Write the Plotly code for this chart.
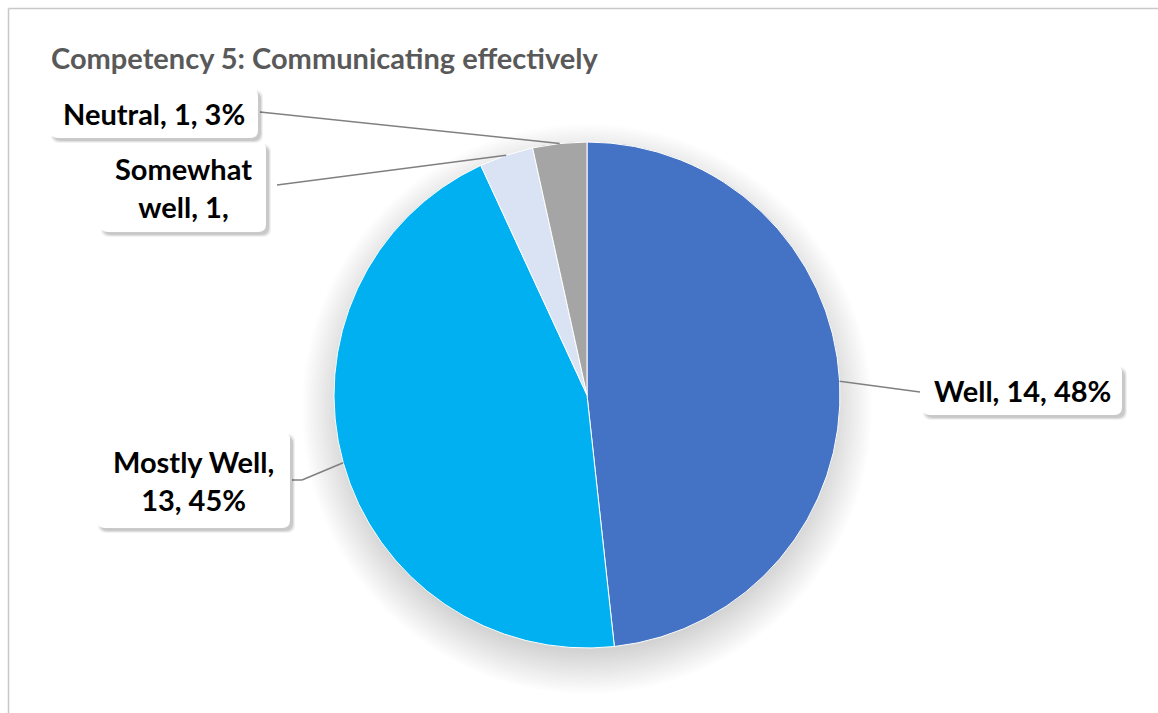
import math
import plotly.graph_objects as go

# Survey responses for competency 5
categories = ["Well", "Mostly Well", "Somewhat well", "Neutral"]
counts = [14, 13, 1, 1]
colors = ["#4472C4", "#00B0F0", "#DAE3F3", "#A5A5A5"]
title_text = "Competency 5: Communicating effectively"

W, H = 1158, 713
CX, CY, R = 587, 395, 253  # pie centre and radius in pixels
FONT = "Lato"


def px(x):
    return x / W


def py(y):
    return 1 - y / H


def rounded_rect(x0, y0, x1, y1, r):
    rx, ry = r / W, r / H
    a, b, c, d = px(x0), py(y0), px(x1), py(y1)  # b is top (higher), d is bottom
    return (f"M {a+rx},{b} L {c-rx},{b} Q {c},{b} {c},{b-ry} "
            f"L {c},{d+ry} Q {c},{d} {c-rx},{d} L {a+rx},{d} "
            f"Q {a},{d} {a},{d+ry} L {a},{b-ry} Q {a},{b} {a+rx},{b} Z")


total = sum(counts)
pcts = [round(100 * v / total) for v in counts]
labels = [f"{c}, {v}, {p}%" for c, v, p in zip(categories, counts, pcts)]

fig = go.Figure()
fig.add_trace(go.Pie(
    labels=categories, values=counts, sort=False, direction="clockwise",
    rotation=0, textinfo="none", hoverinfo="label+value+percent",
    marker=dict(colors=colors, line=dict(color="white", width=1)),
    showlegend=False,
    domain=dict(x=[px(CX - R), px(CX + R)], y=[py(CY + R), py(CY - R)]),
))

shapes = []
annotations = []

# chart area border (top and left edges visible)
shapes.append(dict(type="line", xref="paper", yref="paper", x0=px(8.5), y0=py(8.5),
                   x1=1.02, y1=py(8.5), line=dict(color="#C8C8C8", width=1.5)))
shapes.append(dict(type="line", xref="paper", yref="paper", x0=px(8.5), y0=py(8.5),
                   x1=px(8.5), y1=-0.02, line=dict(color="#C8C8C8", width=1.5)))

# soft shadow around the pie
for k in range(22):
    rr = R - 10 + k * 2
    oy = 14
    shapes.append(dict(type="circle", xref="paper", yref="paper", layer="below",
                       x0=px(CX - rr), x1=px(CX + rr), y0=py(CY + oy + rr), y1=py(CY + oy - rr),
                       fillcolor="rgba(0,0,0,0.009)", line=dict(width=0)))

# label boxes: (x0, y0, x1, y1) in pixels and elbow points for leader lines
boxes = {
    "Well": (922, 365, 1122, 415),
    "Mostly Well": (97, 432, 290, 528),
    "Somewhat well": (100, 142, 266, 232),
    "Neutral": (50, 88, 258, 138),
}
leader_end = {
    "Well": [(920, 392)],
    "Mostly Well": [(302, 480), (292, 480)],
    "Somewhat well": [(277, 185)],
    "Neutral": [(260, 112)],
}
texts = {
    "Well": labels[0],
    "Mostly Well": "Mostly Well,<br>" + f"{counts[1]}, {pcts[1]}%",
    "Somewhat well": "Somewhat<br>" + f"well, {counts[2]},",
    "Neutral": labels[3],
}

# leader lines from the middle of each slice on the rim
cum = 0
for name, v in zip(categories, counts):
    mid = (cum + v / 2) / total * 2 * math.pi
    cum += v
    sx = CX + R * math.sin(mid)
    sy = CY - R * math.cos(mid)
    pts = [(sx, sy)] + leader_end[name]
    for (ax, ay), (bx, by) in zip(pts[:-1], pts[1:]):
        shapes.append(dict(type="line", xref="paper", yref="paper",
                           x0=px(ax), y0=py(ay), x1=px(bx), y1=py(by),
                           line=dict(color="#808080", width=1.5)))

for name in categories:
    x0, y0, x1, y1 = boxes[name]
    for i, a in enumerate([0.05, 0.07, 0.10]):
        g = 3 - i
        shapes.append(dict(type="path", xref="paper", yref="paper",
                           path=rounded_rect(x0 + 2 - g + 2, y0 + 2 - g + 3, x1 + g + 2, y1 + g + 2, 8),
                           fillcolor=f"rgba(0,0,0,{a})", line=dict(width=0)))
    shapes.append(dict(type="path", xref="paper", yref="paper",
                       path=rounded_rect(x0, y0, x1, y1, 8),
                       fillcolor="white", line=dict(width=0)))
    annotations.append(dict(xref="paper", yref="paper", x=px((x0 + x1) / 2), y=py((y0 + y1) / 2),
                            xanchor="center", yanchor="middle", showarrow=False,
                            text=f"<b>{texts[name]}</b>", align="center",
                            font=dict(family=FONT, size=29, color="#000000")))

annotations.append(dict(xref="paper", yref="paper", x=px(49), y=py(57),
                        xanchor="left", yanchor="middle", showarrow=False,
                        text=f"<b>{title_text}</b>",
                        font=dict(family=FONT, size=29, color="#595959")))

fig.update_layout(
    width=W, height=H, margin=dict(l=0, r=0, t=0, b=0),
    paper_bgcolor="white", plot_bgcolor="white",
    shapes=shapes, annotations=annotations,
)

fig.write_html("out.html")
